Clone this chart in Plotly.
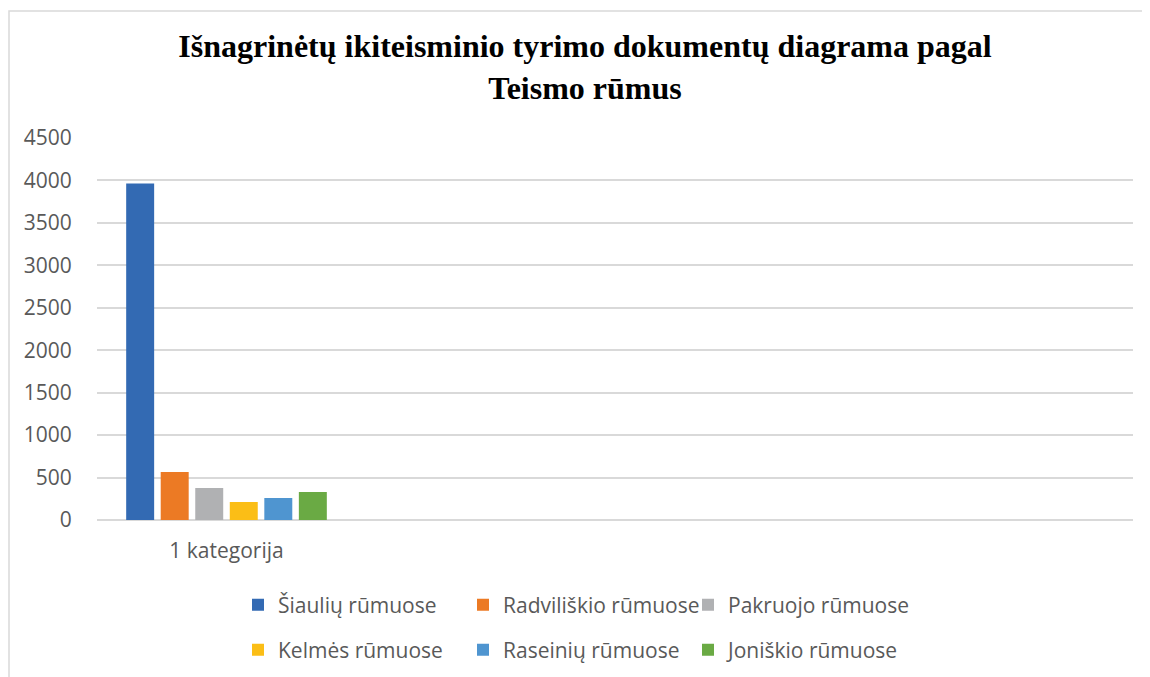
import plotly.graph_objects as go

# data
courts = ['Šiaulių rūmuose', 'Radviliškio rūmuose', 'Pakruojo rūmuose',
          'Kelmės rūmuose', 'Raseinių rūmuose', 'Joniškio rūmuose']
documents = [3965, 565, 377, 212, 259, 330]
category_labels = ['1 kategorija', '', '', '']

colors = ['#336AB3', '#EC7A24', '#B0B1B3', '#FBBE16', '#4F95D0', '#6AAA44']
grey_text = '#595959'
grid = '#D9D9D9'

fig = go.Figure()
for i, (name, val) in enumerate(zip(courts, documents)):
    fig.add_trace(go.Bar(
        x=[0], y=[val], name=name,
        marker=dict(color=colors[i], line=dict(width=0)),
        legend='legend' if i < 3 else 'legend2',
        hovertemplate='%{fullData.name}: %{y}<extra></extra>'
    ))

# the page body adds an 8px offset, so everything is pulled back by 8
W, H = 1150, 677
L, R, T, B = 89, 25, 130, 165

legend_common = dict(
    orientation='h',
    xref='container', yref='container',
    xanchor='left', yanchor='middle',
    entrywidth=180, entrywidthmode='pixels',
    itemwidth=30,
    font=dict(family='Open Sans, sans-serif', size=21, color=grey_text),
    bgcolor='rgba(0,0,0,0)',
    traceorder='normal',
)

fig.update_layout(
    width=W, height=H,
    margin=dict(l=L, r=R, t=T, b=B),
    paper_bgcolor='white', plot_bgcolor='white',
    barmode='group', bargap=0.2, bargroupgap=0.19,
    title=dict(
        text='<b>Išnagrinėtų ikiteisminio tyrimo dokumentų diagrama pagal<br>Teismo rūmus</b>',
        font=dict(family='Liberation Serif, Times New Roman, serif', size=32, color='#000000'),
        x=577 / W, xanchor='center', xref='container',
        y=1 - 49 / H, yanchor='middle', yref='container',
    ),
    xaxis=dict(
        range=[-0.5, 3.5],
        tickmode='array', tickvals=list(range(len(category_labels))), ticktext=category_labels,
        showgrid=False, zeroline=False, showline=False,
        ticks='outside', ticklen=12, tickcolor='rgba(0,0,0,0)',
        tickfont=dict(family='Open Sans, sans-serif', size=21, color=grey_text),
        fixedrange=True,
    ),
    yaxis=dict(
        range=[0, 4500], dtick=500, tick0=0,
        showgrid=True, gridcolor=grid, gridwidth=1.5,
        zeroline=True, zerolinecolor=grid, zerolinewidth=1.5,
        showline=False,
        ticks='outside', ticklen=20, tickcolor='rgba(0,0,0,0)',
        tickfont=dict(family='Open Sans, sans-serif', size=21, color=grey_text),
        fixedrange=True,
    ),
    legend=dict(x=230 / W, y=1 - 597 / H, **legend_common),
    legend2=dict(x=230 / W, y=1 - 642 / H, **legend_common),
    shapes=[dict(
        type='rect', xref='paper', yref='paper',
        x0=(1 - L) / (W - L - R), x1=1.05,
        y0=-0.5, y1=(H - B - 3) / (H - T - B),
        line=dict(color=grid, width=1.5), fillcolor='rgba(0,0,0,0)', layer='below',
    )],
)

fig.write_html('out.html')
